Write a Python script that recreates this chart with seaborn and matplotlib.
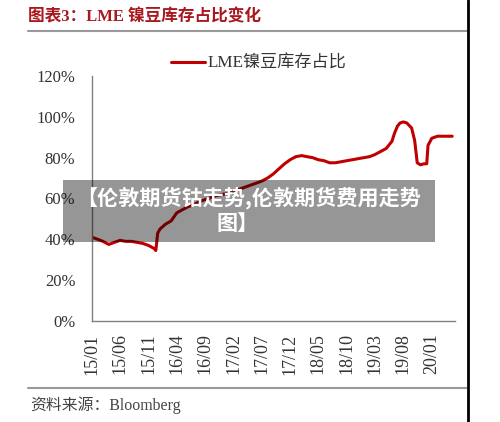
import numpy as np
import pandas as pd
import matplotlib
matplotlib.use("Agg")
import matplotlib.pyplot as plt
import matplotlib.dates as mdates
from matplotlib.lines import Line2D
from matplotlib.patches import Rectangle
import seaborn as sns

# ---------------- data ----------------
dates = [
    "2015-01-01", "2015-02-01", "2015-03-01", "2015-04-01", "2015-05-01", "2015-06-01",
    "2015-07-01", "2015-08-01", "2015-09-01", "2015-10-01", "2015-11-01", "2015-12-01",
    "2015-12-10", "2015-12-20", "2016-01-01", "2016-02-01", "2016-03-01", "2016-04-01",
    "2016-05-01", "2016-06-01", "2016-07-01", "2016-08-01", "2016-09-01", "2016-10-01",
    "2016-11-01", "2016-12-01", "2017-01-01", "2017-02-01", "2017-03-01", "2017-04-01",
    "2017-05-01", "2017-06-01", "2017-07-01", "2017-08-01", "2017-09-01", "2017-10-01",
    "2017-11-01", "2017-12-01", "2018-01-01", "2018-02-01", "2018-03-01", "2018-04-01",
    "2018-05-01", "2018-06-01", "2018-07-01", "2018-08-01", "2018-09-01", "2018-10-01",
    "2018-11-01", "2018-12-01", "2019-01-01", "2019-02-01", "2019-03-01", "2019-04-01",
    "2019-05-01", "2019-06-01", "2019-06-15", "2019-07-01", "2019-07-15", "2019-08-01",
    "2019-08-20", "2019-09-15", "2019-10-01", "2019-10-15", "2019-11-01", "2019-11-20",
    "2019-12-05", "2019-12-12", "2020-01-01", "2020-02-01", "2020-03-01", "2020-04-20",
]
ratio = [
    0.41, 0.40, 0.39, 0.375, 0.385, 0.395,
    0.39, 0.39, 0.385, 0.38, 0.37, 0.355,
    0.345, 0.43, 0.45, 0.475, 0.49, 0.53,
    0.545, 0.56, 0.57, 0.585, 0.595, 0.605,
    0.615, 0.62, 0.625, 0.635, 0.645, 0.655,
    0.665, 0.675, 0.685, 0.70, 0.72, 0.745,
    0.77, 0.79, 0.805, 0.81, 0.805, 0.80,
    0.79, 0.785, 0.775, 0.775, 0.78, 0.785,
    0.79, 0.795, 0.80, 0.805, 0.815, 0.83,
    0.845, 0.88, 0.92, 0.955, 0.97, 0.975,
    0.97, 0.945, 0.885, 0.775, 0.765, 0.77,
    0.77, 0.86, 0.895, 0.905, 0.905, 0.905,
]
x_ticks = ["2015-01-01", "2015-06-01", "2015-11-01", "2016-04-01", "2016-09-01",
           "2017-02-01", "2017-07-01", "2017-12-01", "2018-05-01", "2018-10-01",
           "2019-03-01", "2019-08-01", "2020-01-01"]
x_tick_labels = ["15/01", "15/06", "15/11", "16/04", "16/09", "17/02", "17/07",
                 "17/12", "18/05", "18/10", "19/03", "19/08", "20/01"]
y_ticks = [0, 0.2, 0.4, 0.6, 0.8, 1.0, 1.2]
y_tick_labels = ["0%", "20%", "40%", "60%", "80%", "100%", "120%"]
series_name = "LME镍豆库存占比"
title = "图表3：LME 镍豆库存占比变化"
source = "资料来源：Bloomberg"
overlay_line1 = "【伦敦期货钴走势,伦敦期货费用走势"
overlay_line2 = "图】"

df = pd.DataFrame({"date": pd.to_datetime(dates), "ratio": ratio, "series": series_name})

# ---------------- style ----------------
sns.set_style("white")
serif = ["Liberation Serif", "Noto Sans CJK SC"]
plt.rcParams["font.family"] = serif
W, H = 500, 422
fig = plt.figure(figsize=(W / 100, H / 100), dpi=100)
fig.patch.set_facecolor("white")

ax = fig.add_axes([92 / W, 1 - 321 / H, (455 - 92) / W, (321 - 76) / H])
ax.set_facecolor("white")

sns.lineplot(data=df, x="date", y="ratio", hue="series", palette=["#c00000"],
             linewidth=2.2, ax=ax, legend=False)

ax.set_ylim(0, 1.2)
ax.set_xlim(pd.Timestamp("2015-01-01"), pd.Timestamp("2020-05-05"))
ax.set_yticks(y_ticks)
ax.set_yticklabels(y_tick_labels)
ax.set_xticks(pd.to_datetime(x_ticks))
ax.set_xticklabels(x_tick_labels, rotation=90)
ax.set_xlabel("")
ax.set_ylabel("")

for s in ["top", "right"]:
    ax.spines[s].set_visible(False)
for s in ["left", "bottom"]:
    ax.spines[s].set_color("#808080")
    ax.spines[s].set_linewidth(1.0)
ax.tick_params(axis="both", direction="in", length=4, width=1.0, color="#808080",
               labelcolor="#333333", labelsize=12)
ax.tick_params(axis="y", pad=12)
ax.tick_params(axis="x", pad=9, labelsize=13)

# legend
handle = Line2D([], [], color="#c00000", linewidth=2.2)
fig.legend([handle], [series_name], loc="center left",
           bbox_to_anchor=(171 / W, 1 - 64 / H), frameon=False,
           prop={"family": serif, "size": 12.3}, handlelength=2.0,
           handletextpad=0.15, borderpad=0, borderaxespad=0, labelcolor="#333333")

# title, frame lines, source
fig.text(28 / W, 1 - 17 / H, title, color="#a8181e", fontsize=12, fontweight="bold",
         family=["Liberation Serif", "Noto Sans CJK SC"], va="center", ha="left")
fig.add_artist(Line2D([28 / W, 467 / W], [1 - 31 / H, 1 - 31 / H], color="#999999", lw=1.5))
fig.add_artist(Line2D([28 / W, 467 / W], [1 - 388 / H, 1 - 388 / H], color="#999999", lw=1.5))
fig.add_artist(Line2D([467.5 / W, 467.5 / W], [0, 1], color="black", lw=2))
fig.text(30 / W, 1 - 405 / H, source, color="#444444", fontsize=11.4,
         family=serif, va="center", ha="left")

# overlay watermark box
fig.patches.append(Rectangle((63 / W, 1 - 242 / H), (435 - 63) / W, (242 - 180) / H,
                             transform=fig.transFigure, facecolor="black", alpha=0.41,
                             edgecolor="none", zorder=5))
fig.text(249 / W, 1 - 198 / H, overlay_line1, color="white", fontsize=15.2,
         fontweight="bold", family=["Noto Sans CJK SC", "DejaVu Sans"],
         ha="center", va="center", zorder=6)
fig.text(238 / W, 1 - 223 / H, overlay_line2, color="white", fontsize=15.2,
         fontweight="bold", family=["Noto Sans CJK SC", "DejaVu Sans"],
         ha="center", va="center", zorder=6)

fig.savefig("out.png", dpi=100, facecolor="white")
